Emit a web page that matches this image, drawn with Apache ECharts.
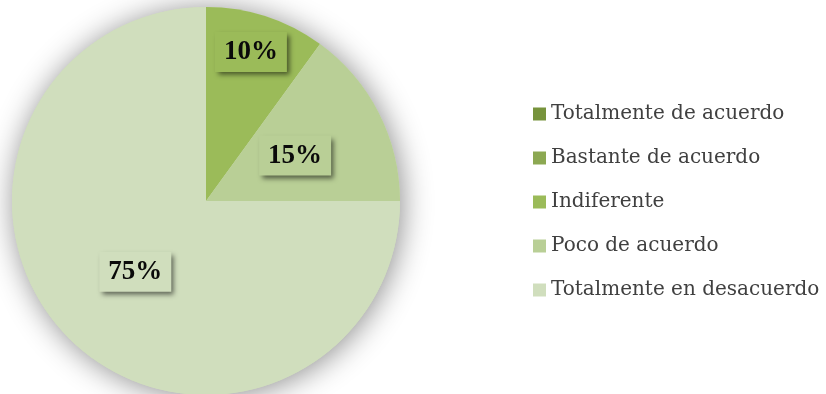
<!DOCTYPE html>
<html>
<head>
<meta charset="utf-8">
<script src="https://cdn.jsdelivr.net/npm/echarts@6/dist/echarts.min.js"></script>
<style>
  html, body { margin: 0; padding: 0; background: #ffffff; }
  #chart { width: 826px; height: 394px; }
</style>
</head>
<body>
<div id="chart"></div>
<script>
// Survey answers, share of respondents (%)
const categories = [
  'Totalmente de acuerdo',
  'Bastante de acuerdo',
  'Indiferente',
  'Poco de acuerdo',
  'Totalmente en desacuerdo'
];
const shares = [0, 0, 10, 15, 75];
const palette = ['#77933C', '#8CA852', '#9BBB59', '#B9CF96', '#D0DEBD'];

// Label nudges (dx, dy) for slices whose label sits off the mid-radius
const labelNudges = { 2: [14, -54] };

const chart = echarts.init(document.getElementById('chart'), null, { renderer: 'canvas' });

const sliceData = categories.map((name, i) => ({
  name: name,
  value: shares[i],
  itemStyle: { color: palette[i] },
  label: { show: shares[i] > 0, backgroundColor: palette[i] }
}));

const total = shares.reduce((a, b) => a + b, 0);

chart.setOption({
  backgroundColor: '#ffffff',
  animation: false,
  legend: {
    orient: 'vertical',
    left: 533,
    top: 104,
    padding: 0,
    itemWidth: 13,
    itemHeight: 13,
    itemGap: 24,
    icon: 'rect',
    data: categories,
    textStyle: {
      fontFamily: 'DejaVu Serif',
      fontSize: 20,
      color: '#404040'
    }
  },
  series: [
    {
      // soft halo behind the pie
      type: 'pie',
      silent: true,
      center: [206, 201],
      radius: 194,
      z: 1,
      label: { show: false },
      labelLine: { show: false },
      itemStyle: {
        color: '#D0DEBD',
        shadowBlur: 30,
        shadowColor: 'rgba(0,0,0,0.45)',
        shadowOffsetX: 2,
        shadowOffsetY: 2
      },
      data: [{ name: '__halo', value: total }],
      tooltip: { show: false }
    },
    {
      type: 'pie',
      center: [206, 201],
      radius: 194,
      startAngle: 90,
      clockwise: true,
      z: 2,
      data: sliceData,
      labelLine: { show: false },
      label: {
        position: 'inside',
        formatter: p => p.value + '%',
        fontFamily: 'Liberation Serif',
        fontWeight: 'bold',
        fontSize: 27,
        color: '#0a0a0a',
        padding: [8, 9, 5, 9],
        shadowColor: 'rgba(0,0,0,0.55)',
        shadowBlur: 5,
        shadowOffsetX: 3,
        shadowOffsetY: 3
      },
      labelLayout: params => {
        const n = labelNudges[params.dataIndex];
        return n ? { dx: n[0], dy: n[1] } : {};
      }
    }
  ]
});
</script>
</body>
</html>
